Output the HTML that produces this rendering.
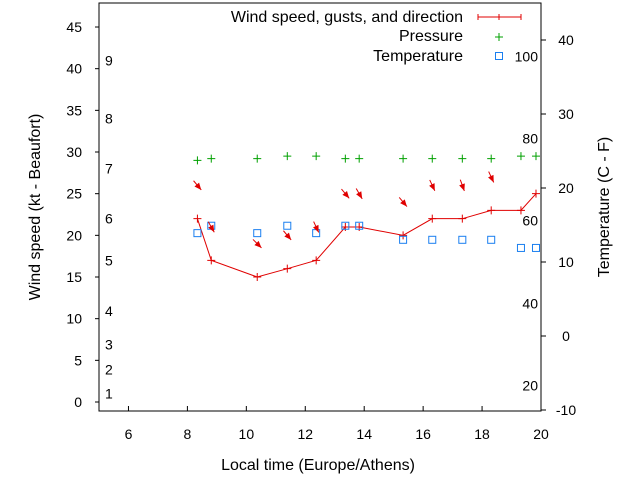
<!DOCTYPE html>
<html><head><meta charset="utf-8"><style>
body{margin:0;background:#fff}
svg{font-family:"Liberation Sans",sans-serif;font-size:14px}
.big{font-size:16px}
</style></head><body>
<svg id="c" width="640" height="480"></svg>
<script>
const times=[8.34,8.81,10.37,11.39,12.37,13.36,13.83,15.32,16.31,17.33,18.31,19.32,19.83];
const wind=[22,17,15,16,17,21,21,20,22,22,23,23,25];
const gusts=[26,21,19,20,21,25,25,24,26,26,27];
const direction=[320,330,315,320,335,320,330,320,335,340,335];
const pressure=[29,29.2,29.2,29.5,29.5,29.2,29.2,29.2,29.2,29.2,29.2,29.5,29.5];
const temperature=[13.9,14.9,13.9,14.9,13.9,14.9,14.9,13,13,13,13,11.9,11.9];
const xTicks=[6,8,10,12,14,16,18,20];
const yTicks=[0,5,10,15,20,25,30,35,40,45];
const y2Ticks=[-10,0,10,20,30,40];
const beaufort=[[1,1],[2,3.9],[3,6.9],[4,10.9],[5,17],[6,22],[7,28],[8,34],[9,41]];
const fLabels=[[100,37.8],[80,26.7],[60,15.6],[40,4.4],[20,-6.7]];
const L=99,R=541,T=3,B=411;
const X=t=>L+(t-5)/15*(R-L);
const Y=v=>402-v*8.333;
const Y2=v=>336-v*7.4;
const s=document.getElementById('c');
const NS='http://www.w3.org/2000/svg';
function el(tag,attrs,name,txt){const e=document.createElementNS(NS,tag);for(const k in attrs)e.setAttribute(k,attrs[k]);


if(txt!==undefined)e.textContent=txt;s.appendChild(e);return e;}
el('rect',{x:L,y:T,width:R-L,height:B-T,fill:'none',stroke:'#000'},'plot-frame');
xTicks.forEach(t=>{el('line',{x1:X(t),x2:X(t),y1:B,y2:B-5,stroke:'#000'},'x-tick');el('text',{x:X(t),y:439,'text-anchor':'middle'},'x-tick-label',t);});
yTicks.forEach(v=>{el('line',{x1:L-4,x2:L,y1:Y(v),y2:Y(v),stroke:'#000'},'y-tick');el('text',{x:82,y:Y(v)+5,'text-anchor':'end'},'y-tick-label',v);});
y2Ticks.forEach(v=>{el('line',{x1:R,x2:R+5,y1:Y2(v),y2:Y2(v),stroke:'#000'},'y2-tick');el('text',{x:566,y:Y2(v)+5,'text-anchor':'middle'},'y2-tick-label',v);});
beaufort.forEach(b=>el('text',{x:105,y:Y(b[1])+5},'beaufort-label',b[0]));
fLabels.forEach(f=>el('text',{x:538,y:Y2(f[1])+5,'text-anchor':'end'},'fahrenheit-label',f[0]));
el('text',{x:318,y:470,'text-anchor':'middle',class:'big'},'x-axis-title','Local time (Europe/Athens)');
el('text',{x:40,y:207,'text-anchor':'middle',class:'big',transform:'rotate(-90 40 207)'},'y-axis-title','Wind speed (kt - Beaufort)');
el('text',{x:609,y:207,'text-anchor':'middle',class:'big',transform:'rotate(-90 609 207)'},'y2-axis-title','Temperature (C - F)');
el('polyline',{points:times.map((t,i)=>X(t)+','+Y(wind[i])).join(' '),fill:'none',stroke:'#e00000'},'wind-line');
times.forEach((t,i)=>{const x=X(t),y=Y(wind[i]);
el('path',{d:`M${x-4},${y}h8M${x},${y-4}v8`,stroke:'#e00000'},'wind-point');
el('path',{d:`M${x-4},${Y(pressure[i])}h8M${x},${Y(pressure[i])-4}v8`,stroke:'#00a000'},'pressure-point');
el('rect',{x:x-3.5,y:Y2(temperature[i])-3.5,width:7,height:7,fill:'none',stroke:'#1a7ff0'},'temperature-point');});
gusts.forEach((g,i)=>{const cx=X(times[i]),cy=Y(g);const a=(direction[i]+180)*Math.PI/180;
const dx=Math.sin(a),dy=-Math.cos(a);const x1=cx-dx*6,y1=cy-dy*6,x2=cx+dx*6,y2=cy+dy*6;
el('line',{x1:x1,y1:y1,x2:x2,y2:y2,stroke:'#e00000'},'wind-arrow-shaft');
const px=-dy,py=dx;
el('polygon',{points:`${x2},${y2} ${x2-dx*7+px*3},${y2-dy*7+py*3} ${x2-dx*7-px*3},${y2-dy*7-py*3}`,fill:'#e00000'},'wind-arrow-head');});
el('text',{x:463,y:22,'text-anchor':'end',class:'big'},'legend-wind-label','Wind speed, gusts, and direction');
el('path',{d:'M478,17h43M478,14v6M499,14v6M521,14v6',stroke:'#e00000'},'legend-wind-sample');
el('text',{x:463,y:41,'text-anchor':'end',class:'big'},'legend-pressure-label','Pressure');
el('path',{d:'M495,37h8M499,33v8',stroke:'#00a000'},'legend-pressure-sample');
el('text',{x:463,y:61,'text-anchor':'end',class:'big'},'legend-temperature-label','Temperature');
el('rect',{x:495.5,y:52.5,width:7,height:7,fill:'none',stroke:'#1a7ff0'},'legend-temperature-sample');
</script></body></html>
